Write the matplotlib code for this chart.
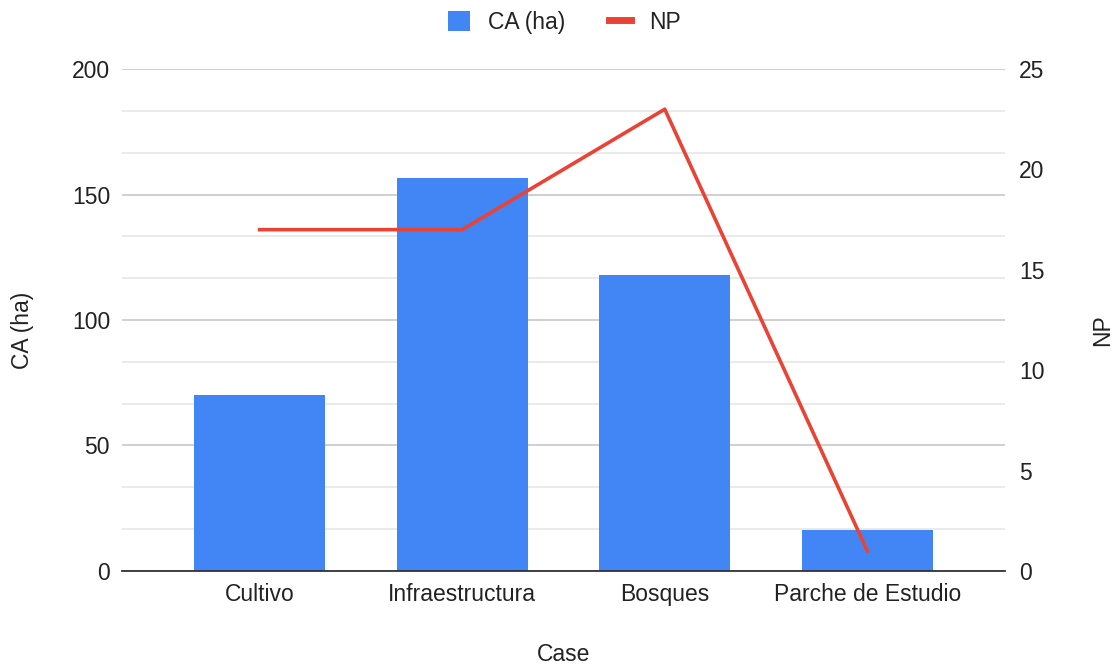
import numpy as np
import matplotlib.pyplot as plt
from matplotlib.lines import Line2D
from matplotlib.patches import Patch

categories = ["Cultivo", "Infraestructura", "Bosques", "Parche de Estudio"]
ca_ha = [70.2, 156.6, 118.0, 16.4]
np_count = [17, 17, 23, 1]

left_ticks = [0, 50, 100, 150, 200]
right_ticks = [0, 5, 10, 15, 20, 25]

BAR_COLOR = "#4285F4"
LINE_COLOR = "#EA4335"
TEXT_COLOR = "#222222"
FS = 16.5

plt.rcParams["font.family"] = ["Liberation Sans", "DejaVu Sans"]

fig = plt.figure(figsize=(11.18, 6.65), dpi=100)
ax = fig.add_axes([0.109, 0.1414, 0.790, 0.7548])

x = np.arange(len(categories))
ax.bar(x, ca_ha, width=0.645, color=BAR_COLOR, zorder=2)
ax.set_xlim(-0.68, 3.68)
ax.set_ylim(0, 200)

# major and minor gridlines
ax.set_yticks(left_ticks)
ax.set_yticks(np.arange(0, 201, 50 / 3), minor=True)
ax.grid(axis="y", which="major", color="#cccccc", linewidth=1.3, zorder=0)
ax.grid(axis="y", which="minor", color="#e8e8e8", linewidth=1.3, zorder=0)
ax.tick_params(axis="y", which="both", length=0, pad=8.5,
               labelsize=FS, labelcolor=TEXT_COLOR)
ax.set_xticks(x)
ax.set_xticklabels(categories)
ax.tick_params(axis="x", length=0, pad=9, labelsize=FS, labelcolor=TEXT_COLOR)

for side in ["top", "right", "left"]:
    ax.spines[side].set_visible(False)
ax.spines["bottom"].set_color("#333333")
ax.spines["bottom"].set_linewidth(1.3)
ax.spines["bottom"].set_zorder(3)

ax.set_xlabel("Case", fontsize=FS, color=TEXT_COLOR, labelpad=26)
ax.set_ylabel("CA (ha)", fontsize=FS, color=TEXT_COLOR, va="center")
ax.yaxis.set_label_coords(-0.113, 0.48)

ax2 = ax.twinx()
ax2.plot(x, np_count, color=LINE_COLOR, linewidth=2.6, zorder=3)
ax2.set_ylim(0, 25)
ax2.set_yticks(right_ticks)
ax2.tick_params(axis="y", length=0, pad=10, labelsize=FS, labelcolor=TEXT_COLOR)
for side in ["top", "right", "left", "bottom"]:
    ax2.spines[side].set_visible(False)
ax2.set_ylabel("NP", fontsize=FS, color=TEXT_COLOR, va="center")
ax2.yaxis.set_label_coords(1.111, 0.48)

handles = [
    Patch(facecolor=BAR_COLOR, edgecolor="none"),
    Line2D([0], [0], color=LINE_COLOR, linewidth=5),
]
fig.legend(handles, ["CA (ha)", "NP"], loc="upper center",
           bbox_to_anchor=(0.505, 1.015), ncol=2, frameon=False,
           fontsize=FS, handlelength=0.95, handleheight=0.95,
           columnspacing=1.9, handletextpad=0.8, labelcolor=TEXT_COLOR)

fig.savefig("out.png", dpi=100)
